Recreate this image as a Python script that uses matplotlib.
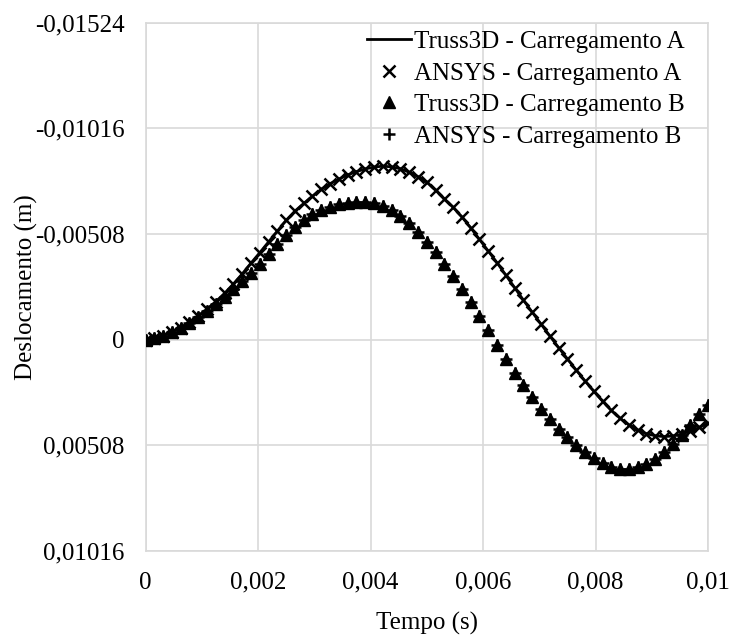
import numpy as np
import matplotlib.pyplot as plt

plt.rcParams['font.family'] = ['Liberation Serif', 'DejaVu Serif']

# time (s), 65 samples from 0 to 0.01
tempo = np.linspace(0, 0.01, 65)

# displacement, Carregamento A (x 1e-3 m)
desloc_a = [0.00, -0.07, -0.20, -0.38, -0.58, -0.85, -1.15, -1.47, -1.83, -2.23,
            -2.68, -3.16, -3.68, -4.18, -4.70, -5.22, -5.74, -6.18, -6.55, -6.90,
            -7.23, -7.50, -7.72, -7.92, -8.08, -8.21, -8.30, -8.34, -8.31, -8.22,
            -8.05, -7.84, -7.58, -7.18, -6.78, -6.36, -5.90, -5.38, -4.82, -4.26,
            -3.70, -3.10, -2.50, -1.90, -1.32, -0.75, -0.18, 0.38, 0.92, 1.46,
            1.98, 2.48, 2.96, 3.40, 3.78, 4.10, 4.35, 4.52, 4.62, 4.66,
            4.63, 4.54, 4.40, 4.22, 4.02]

# displacement, Carregamento B (x 1e-3 m)
desloc_b = [0.00, -0.07, -0.20, -0.37, -0.57, -0.82, -1.10, -1.40, -1.72, -2.06,
            -2.42, -2.80, -3.20, -3.64, -4.12, -4.60, -5.05, -5.44, -5.76, -6.02,
            -6.22, -6.38, -6.50, -6.58, -6.63, -6.64, -6.58, -6.44, -6.22, -5.94,
            -5.60, -5.20, -4.70, -4.20, -3.66, -3.08, -2.45, -1.80, -1.15, -0.45,
            0.25, 0.92, 1.58, 2.20, 2.78, 3.32, 3.82, 4.28, 4.68, 5.04,
            5.38, 5.68, 5.92, 6.10, 6.20, 6.22, 6.14, 5.96, 5.72, 5.40,
            5.00, 4.56, 4.08, 3.58, 3.12]

# ANSYS results lie on top of the Truss3D ones
ansys_a = desloc_a
ansys_b = desloc_b

y_ticks = [-0.01524, -0.01016, -0.00508, 0, 0.00508, 0.01016]
y_labels = ['-0,01524', '-0,01016', '-0,00508', '0', '0,00508', '0,01016']
x_ticks = [0, 0.002, 0.004, 0.006, 0.008, 0.01]
x_labels = ['0', '0,002', '0,004', '0,006', '0,008', '0,01']

fs = 18

fig = plt.figure(figsize=(7.29, 6.37), dpi=100)
ax = fig.add_axes([0.1996, 0.135, 0.7716, 0.8294])

a = np.array(desloc_a) * 1e-3
b = np.array(desloc_b) * 1e-3

ax.plot(tempo, a, color='black', lw=2.0, label='Truss3D - Carregamento A', zorder=3)
ax.plot(tempo, np.array(ansys_a) * 1e-3, ls='none', marker='x', ms=8.5, mew=1.8,
        color='black', label='ANSYS - Carregamento A', zorder=4)
ax.plot(tempo, b, ls='none', marker='^', ms=8.5, color='black',
        label='Truss3D - Carregamento B', zorder=5)
ax.plot(tempo, np.array(ansys_b) * 1e-3, ls='none', marker='+', ms=8.5, mew=1.8,
        color='black', label='ANSYS - Carregamento B', zorder=6)

ax.set_xlim(0, 0.01)
ax.set_ylim(0.01016, -0.01524)
ax.set_xticks(x_ticks)
ax.set_xticklabels(x_labels)
ax.set_yticks(y_ticks)
ax.set_yticklabels(y_labels)
ax.tick_params(length=0, labelsize=fs)
ax.tick_params(axis='y', pad=15)
ax.tick_params(axis='x', pad=15)
ax.grid(color='#d9d9d9', lw=1.2)
ax.set_axisbelow(True)
for s in ax.spines.values():
    s.set_color('#d9d9d9')
    s.set_linewidth(1.2)

ax.set_xlabel('Tempo (s)', fontsize=fs, labelpad=13)
ax.set_ylabel('Deslocamento (m)', fontsize=fs, labelpad=-2)

leg = ax.legend(loc='upper right', bbox_to_anchor=(0.958, 0.985), frameon=False,
                fontsize=fs, handlelength=1.76, handletextpad=0.12,
                labelspacing=0.36, borderpad=0.0, borderaxespad=0.0)

fig.savefig('out.png', dpi=100)
